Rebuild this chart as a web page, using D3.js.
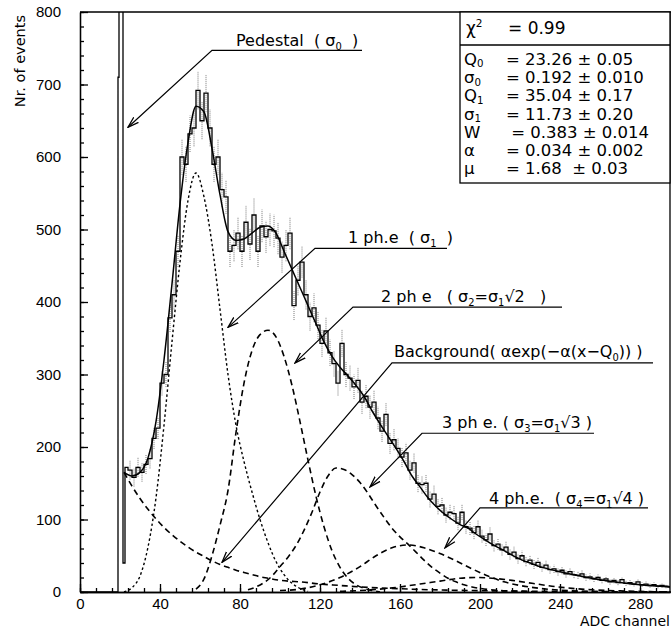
<!DOCTYPE html>
<html lang="en">
  <head>
    <meta charset="UTF-8" />
    <title>ADC spectrum</title>
    <style>
      * {
        margin: 0;
        padding: 0;
      }
      body {
        background: #fff;
      }
      svg {
        font-family: 'DejaVu Sans', sans-serif;
      }
    </style>
  </head>
  <body>
    <script src="https://cdn.jsdelivr.net/npm/d3@7"></script>
    <script>
      // measured histogram: 2 ADC channels per bin, first bin starts at channel 24
      const binStart = 24
      const binWidth = 2
      const counts = [
        168, 158, 172, 165, 176, 184, 212, 226, 288, 300,
        378, 410, 470, 600, 590, 632, 640, 692, 650, 688,
        640, 590, 600, 555, 545, 470, 478, 495, 470, 510,
        480, 520, 470, 505, 490, 500, 498, 488, 462, 478,
        495, 395, 430, 455, 410, 380, 392, 368, 343, 360,
        330, 315, 288, 343, 300, 295, 283, 292, 262, 270,
        255, 262, 240, 222, 245, 205, 210, 198, 186, 192,
        168, 178, 150, 148, 150, 128, 135, 118, 120, 106,
        110, 108, 95, 110, 90, 88, 82, 90, 77, 72,
        80, 64, 66, 58, 62, 52, 55, 46, 50, 42,
        44, 38, 41, 34, 37, 31, 32, 28, 30, 25,
        28, 24, 23, 25, 20, 21, 18, 20, 16, 18,
        14, 16, 13, 17, 12, 13, 11, 14, 10, 11,
        9, 10, 8, 9, 8, 7
      ]
      // pedestal peak, half-channel bins starting at channel 19
      const pedStart = 19
      const pedWidth = 0.5
      const pedCounts = [710, 4000, 4000, 4000, 4000, 40, 40, 172, 172, 172]

      // total fit
      const fitX = [22, 26, 30, 34, 38, 42, 46, 50, 54, 58, 62, 66, 70, 74, 78, 82, 86, 90, 94, 98, 102, 106, 110, 114, 118, 122, 126, 130, 134, 138, 142, 146, 150, 154, 158, 162, 166, 170, 174, 178, 182, 186, 190, 194, 198, 202, 206, 210, 214, 218, 222, 226, 230, 240, 250, 260, 270, 280, 290, 300]
      const fitY = [165, 160, 165, 185, 235, 320, 425, 535, 620, 670, 662, 612, 548, 497, 485, 487, 495, 503, 505, 495, 470, 445, 420, 395, 370, 345, 325, 310, 298, 285, 270, 250, 232, 215, 198, 180, 160, 145, 130, 118, 108, 100, 93, 88, 80, 73, 66, 60, 54, 48, 43, 39, 35, 28, 22, 17, 13, 10, 8, 6]

      // fit components
      const pe1X = [22, 26, 30, 34, 38, 42, 46, 50, 54, 58, 62, 66, 70, 74, 78, 82, 86, 90, 94, 98, 102, 106, 110, 114]
      const pe1Y = [0, 6, 22, 62, 130, 230, 345, 455, 540, 578, 545, 480, 390, 300, 230, 180, 138, 100, 68, 42, 24, 12, 5, 1]
      const pe2X = [58, 62, 66, 70, 74, 78, 82, 86, 90, 94, 98, 102, 106, 110, 114, 118, 122, 126, 130, 134, 138, 142, 146, 150]
      const pe2Y = [4, 18, 50, 92, 140, 220, 288, 333, 355, 361, 352, 325, 285, 235, 182, 132, 90, 57, 34, 19, 10, 5, 2, 0]
      const pe3X = [84, 88, 92, 96, 100, 104, 108, 112, 116, 120, 124, 128, 132, 136, 140, 144, 148, 152, 156, 160, 164, 168, 172, 176, 180, 184, 188, 192, 196, 200, 210, 220, 230]
      const pe3Y = [3, 7, 13, 22, 35, 48, 64, 85, 110, 138, 160, 171, 169, 162, 151, 136, 119, 103, 88, 76, 66, 55, 44, 34, 26, 19, 14, 10, 7, 5, 2, 1, 0]
      const pe4X = [100, 110, 120, 130, 140, 148, 156, 164, 172, 180, 188, 196, 204, 212, 220, 230, 240, 250, 260, 270]
      const pe4Y = [2, 4, 10, 20, 35, 50, 61, 65, 61, 53, 43, 32, 22, 14, 9, 5, 2.5, 1.2, 0.5, 0]
      const pe5X = [130, 140, 150, 160, 170, 180, 190, 198, 206, 216, 226, 236, 246, 256, 270, 285, 300]
      const pe5Y = [1, 2, 4, 7, 11, 15, 19, 20, 19, 16, 12, 8, 5, 3, 1.5, 0.5, 0.2]
      const bgX = [22, 26, 30, 34, 38, 42, 46, 50, 54, 58, 62, 66, 70, 74, 78, 82, 86, 90, 94, 98, 104, 110, 120, 130, 140, 150, 160, 170, 180, 200, 220, 240, 260, 280, 300]
      const bgY = [165, 146, 129, 114, 101, 89, 79, 70, 62, 55, 49, 43, 38, 34, 30, 27, 24, 21, 19, 17, 15, 14, 11, 9, 7, 5.5, 4.5, 3.5, 2.8, 1.8, 1.2, 0.8, 0.5, 0.3, 0.2]

      // axis ticks
      const xMajor = [0, 40, 80, 120, 160, 200, 240, 280]
      const yMajor = [0, 100, 200, 300, 400, 500, 600, 700, 800]

      // fit result box
      const chi2 = '= 0.99'
      const parNames = ['Q_0', 'σ_0', 'Q_1', 'σ_1', 'W', 'α', 'μ']
      const parValues = ['= 23.26 ± 0.05', '= 0.192 ± 0.010', '= 35.04 ± 0.17', '= 11.73 ± 0.20', ' = 0.383 ± 0.014', '= 0.034 ± 0.002', '= 1.68  ± 0.03']

      // labels with leader lines (data coordinates)
      const notes = [
        { text: 'Pedestal  ( σ_0  )', tx: 78, ty: 753, ly: 747, lx0: 66, lx1: 141, ax: 24, ay: 641 },
        { text: '1 ph.e  ( σ_1  )', tx: 134, ty: 481, ly: 474, lx0: 117.5, lx1: 183.5, ax: 74, ay: 365 },
        { text: '2 ph e   ( σ_2=σ_1√2   )', tx: 150.5, ty: 400, ly: 393, lx0: 136.5, lx1: 241, ax: 107.5, ay: 316 },
        { text: 'Background( αexp(−α(x−Q_0)) )', tx: 157, ty: 324, ly: 316, lx0: 156, lx1: 286.5, ax: 71, ay: 41 },
        { text: '3 ph e. ( σ_3=σ_1√3 )', tx: 181, ty: 226, ly: 219, lx0: 171, lx1: 257, ax: 145, ay: 145 },
        { text: '4 ph.e.  ( σ_4=σ_1√4 )', tx: 204.5, ty: 121, ly: 116, lx0: 200, lx1: 284, ax: 182.5, ay: 61 }
      ]

      const width = 671
      const height = 631
      const pLeft = 80
      const pRight = 670
      const pTop = 12
      const pBottom = 592

      const x = d3.scaleLinear().domain([0, 295]).range([pLeft, pRight])
      const y = d3.scaleLinear().domain([0, 800]).range([pBottom, pTop])

      const svg = d3
        .select('body')
        .append('svg')
        .attr('width', width)
        .attr('height', height)

      svg.append('rect').attr('width', width).attr('height', height).attr('fill', '#fff')

      const defs = svg.append('defs')
      defs
        .append('clipPath')
        .attr('id', 'plot')
        .append('rect')
        .attr('x', pLeft)
        .attr('y', pTop)
        .attr('width', pRight - pLeft)
        .attr('height', pBottom - pTop)
      defs
        .append('marker')
        .attr('id', 'arrow')
        .attr('viewBox', '0 -5 12 10')
        .attr('refX', 11)
        .attr('refY', 0)
        .attr('markerWidth', 12)
        .attr('markerHeight', 10)
        .attr('markerUnits', 'userSpaceOnUse')
        .attr('orient', 'auto')
        .append('path')
        .attr('d', 'M0,-3.5L11,0L0,3.5')
        .attr('fill', 'none')
        .attr('stroke', '#000')
        .attr('stroke-width', 1.3)

      // text with _x subscripts and ^x superscripts
      function rich(sel, str, fs, subShift = 0.25) {
        const re = /([_^])(.)/g
        let last = 0
        let shift = 0
        let m
        const add = (t, dy, size) => {
          const s = sel.append('tspan').text(t)
          if (dy) s.attr('dy', dy)
          if (size) s.attr('font-size', size)
        }
        while ((m = re.exec(str))) {
          if (m.index > last) {
            add(str.slice(last, m.index), -shift)
            shift = 0
          }
          const d = m[1] === '_' ? fs * subShift : -fs * 0.42
          add(m[2], d - shift, fs * 0.62)
          shift = d
          last = re.lastIndex
        }
        if (last < str.length) add(str.slice(last), -shift)
      }

      const plot = svg.append('g').attr('clip-path', 'url(#plot)')

      // fit components
      const comp = (xs, ys) => d3.zip(xs, ys)
      const curve = d3
        .line()
        .x((d) => x(d[0]))
        .y((d) => y(d[1]))
        .curve(d3.curveMonotoneX)

      const dashed = [
        [pe2X, pe2Y],
        [pe3X, pe3Y],
        [pe4X, pe4Y],
        [pe5X, pe5Y],
        [bgX, bgY]
      ]
      dashed.forEach(([xs, ys]) => {
        plot
          .append('path')
          .attr('d', curve(comp(xs, ys)))
          .attr('fill', 'none')
          .attr('stroke', '#000')
          .attr('stroke-width', 1.6)
          .attr('stroke-dasharray', '6,4')
      })
      plot
        .append('path')
        .attr('d', curve(comp(pe1X, pe1Y)))
        .attr('fill', 'none')
        .attr('stroke', '#000')
        .attr('stroke-width', 1.4)
        .attr('stroke-dasharray', '2.5,2.5')

      // histogram bins
      const bins = pedCounts
        .map((c, i) => ({ x0: pedStart + i * pedWidth, x1: pedStart + (i + 1) * pedWidth, c }))
        .concat(counts.map((c, i) => ({ x0: binStart + i * binWidth, x1: binStart + (i + 1) * binWidth, c })))

      // error bars
      plot
        .selectAll('line.err')
        .data(bins.filter((b) => b.x0 >= binStart))
        .join('line')
        .attr('class', 'err')
        .attr('x1', (d) => x((d.x0 + d.x1) / 2))
        .attr('x2', (d) => x((d.x0 + d.x1) / 2))
        .attr('y1', (d) => y(d.c - Math.sqrt(d.c)))
        .attr('y2', (d) => y(d.c + Math.sqrt(d.c)))
        .attr('stroke', '#777')
        .attr('stroke-width', 1)
        .attr('stroke-dasharray', '1,1')

      const stepPts = [[0, 0], [pedStart, 0]]
      bins.forEach((b) => {
        stepPts.push([b.x0, b.c], [b.x1, b.c])
      })
      plot
        .append('path')
        .attr(
          'd',
          d3
            .line()
            .x((d) => x(d[0]))
            .y((d) => y(d[1]))(stepPts)
        )
        .attr('fill', 'none')
        .attr('stroke', '#000')
        .attr('stroke-width', 1.3)

      // total fit
      plot
        .append('path')
        .attr('d', curve(comp(fitX, fitY)))
        .attr('fill', 'none')
        .attr('stroke', '#000')
        .attr('stroke-width', 1.5)

      // axes, ticks pointing inside
      const axisStyle = (g) => {
        g.selectAll('path, line').attr('stroke', '#000').attr('stroke-width', 1.3)
        g.selectAll('text').attr('fill', '#000').attr('font-size', 15)
      }
      svg
        .append('g')
        .attr('transform', `translate(0,${pBottom})`)
        .call(d3.axisBottom(x).tickValues(d3.range(0, 296, 8)).tickSize(-4).tickSizeOuter(0).tickFormat(''))
        .call(axisStyle)
      svg
        .append('g')
        .attr('transform', `translate(0,${pBottom})`)
        .call(d3.axisBottom(x).tickValues(xMajor).tickSize(-8).tickSizeOuter(0).tickPadding(6))
        .call(axisStyle)
      svg
        .append('g')
        .attr('transform', `translate(${pLeft},0)`)
        .call(d3.axisLeft(y).tickValues(d3.range(0, 801, 20)).tickSize(-4).tickSizeOuter(0).tickFormat(''))
        .call(axisStyle)
      svg
        .append('g')
        .attr('transform', `translate(${pLeft},0)`)
        .call(d3.axisLeft(y).tickValues(yMajor).tickSize(-8).tickSizeOuter(0).tickPadding(19))
        .call(axisStyle)

      // frame
      svg
        .append('path')
        .attr('d', `M${pLeft},${pTop}H${width}M${pRight},${pTop}V${pBottom}M${pRight},${pBottom}H${width}`)
        .attr('stroke', '#000')
        .attr('stroke-width', 1.3)
        .attr('fill', 'none')

      svg
        .append('text')
        .attr('transform', `translate(25,15) rotate(-90)`)
        .attr('text-anchor', 'end')
        .attr('font-size', 14.5)
        .text('Nr. of events')
      svg.append('text').attr('x', 580).attr('y', 626).attr('font-size', 14).text('ADC channel')

      // annotations
      notes.forEach((n) => {
        svg
          .append('path')
          .attr('d', `M${x(n.lx1)},${y(n.ly)}H${x(n.lx0)}L${x(n.ax)},${y(n.ay)}`)
          .attr('fill', 'none')
          .attr('stroke', '#000')
          .attr('stroke-width', 1.2)
          .attr('marker-end', 'url(#arrow)')
        const t = svg
          .append('text')
          .attr('x', x(n.tx))
          .attr('y', y(n.ty))
          .attr('font-size', 16)
          .style('white-space', 'pre')
        rich(t, n.text, 16)
      })

      // fit result box
      const box = svg.append('g')
      box
        .append('rect')
        .attr('x', 460)
        .attr('y', pTop)
        .attr('width', pRight - 460)
        .attr('height', 171)
        .attr('fill', '#fff')
        .attr('stroke', '#000')
        .attr('stroke-width', 1.3)
      box.append('line').attr('x1', 460).attr('x2', pRight).attr('y1', 45).attr('y2', 45).attr('stroke', '#000').attr('stroke-width', 1.3)
      const chiT = box.append('text').attr('x', 466).attr('y', 34).attr('font-size', 17)
      rich(chiT, 'χ^2', 17)
      box.append('text').attr('x', 508).attr('y', 34).attr('font-size', 17).text(chi2)
      parNames.forEach((p, i) => {
        const t = box.append('text').attr('x', 464).attr('y', 65 + i * 18.2).attr('font-size', 16.5)
        rich(t, p, 16.5, 0.15)
        box.append('text').attr('x', 506).attr('y', 65 + i * 18.2).attr('font-size', 16.5).style('white-space', 'pre').text(parValues[i])
      })
    </script>
  </body>
</html>
